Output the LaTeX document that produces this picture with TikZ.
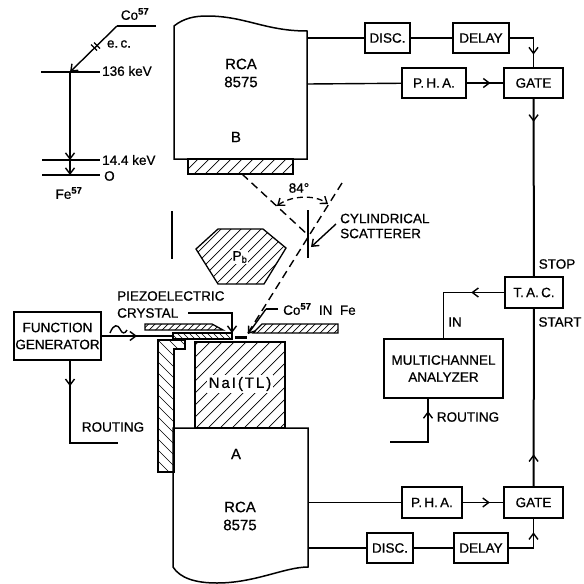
\documentclass[tikz,border=0pt]{standalone}
\usepackage{fontspec}
\setmainfont[FakeBold=0.7]{Liberation Sans}
\usetikzlibrary{arrows.meta,decorations.markings}
\tikzset{
  lbl/.style={font=\fontsize{13.5}{17}\selectfont,align=center,inner sep=0pt},
  tubelbl/.style={font=\fontsize{15}{18}\selectfont,align=center,inner sep=0pt},
  nd/.style={draw,line width=1.5pt,lbl,minimum height=30pt},
  plate/.style={draw,line width=1.3pt,inner sep=0pt},
  hatchln/.style={line width=.7pt},
  wire/.style={line width=1.4pt},
  trunk/.style={line width=2pt},
  midarr/.style={postaction={decorate,decoration={markings,
    mark=at position #1 with {\arrow{Straight Barb[length=6pt,width=9pt,line width=1.4pt]}}}}},
  dsh/.style={line width=1.4pt,dash pattern=on 8pt off 5pt},
  >={Straight Barb[length=6pt,width=9pt,line width=1.4pt]}
}
\newcommand{\hatchit}[3]{%
  \begin{scope}\clip #1;
    \foreach \hn in {0,...,320} {\draw[hatchln] (\hn*#2-600,0) -- ++(#3*600,600);}
  \end{scope}
  \draw[line width=1.3pt] #1;}
\begin{document}
\begin{tikzpicture}[x=1pt,y=-1pt]
    \useasboundingbox (0,0) rectangle (584,584);
    \draw[line width=1.5pt] (174,159) -- (174,26) .. controls (184,18) and (195,16) .. (207,16)
      .. controls (245,16) and (265,31) .. (307,31) -- (307,159) -- cycle;
    \draw[line width=1.5pt] (173,428) -- (308,428) -- (308,567) .. controls (285,567) and (255,583) .. (217,583)
      .. controls (195,583) and (180,578) .. (173,567) -- cycle;
    \node[plate,minimum width=105pt,minimum height=15pt](base) at (240.5,166.5) {};
    \node[plate,minimum width=90pt,minimum height=86pt](nai) at (240,385) {};
    \node[plate,minimum width=59pt,minimum height=6pt](piezo) at (202.5,336) {};
    \hatchit{(base.north west) rectangle (base.south east)}{11}{-1}
    \hatchit{(nai.north west) rectangle (nai.south east)}{12}{-1}
    \hatchit{(piezo.north west) rectangle (piezo.south east)}{6}{1}
    \hatchit{(158,340) -- (185,340) -- (185,349) -- (174,349) -- (174,472) -- (158,472) -- cycle}{11}{1}
    \hatchit{(145,324) -- (212,324) -- (223,330) -- (145,330) -- cycle}{6.5}{-1}
    \hatchit{(262,324) -- (338,324) -- (338,333) -- (253,333) -- cycle}{7}{-1}
    \hatchit{(218,229) -- (263,229) -- (286,248) -- (264,284) -- (218,284) -- (196,249) -- cycle}{10}{-1}
    \node[lbl,fill=white,inner sep=2pt,font=\fontsize{15}{17}\selectfont\addfontfeature{LetterSpace=13}](naiLbl) at (240,384) {NaI(TL)};
    \node[lbl,fill=white,inner sep=1pt](pb) at (240,257) {P\textsubscript{b}};
    \node[tubelbl](rcaB) at (241,73) {RCA\\8575};
    \node[tubelbl](tubeB) at (236,137) {B};
    \node[tubelbl](tubeA) at (236,454) {A};
    \node[tubelbl](rcaA) at (240,516) {RCA\\8575};
    \node[nd,minimum width=45pt](discT) at (387.5,38) {DISC.};
    \node[nd,minimum width=56pt](delayT) at (481,38) {DELAY};
    \node[nd,minimum width=64pt](phaT) at (434,83) {P.\,H.\,A.};
    \node[nd,minimum width=59pt](gateT) at (533.5,83) {GATE};
    \node[nd,minimum width=58pt,minimum height=31pt](tac) at (534,292.5) {T.\,A.\,C.};
    \node[nd,minimum width=119pt,minimum height=59pt](mca) at (443.5,368.5) {MULTICHANNEL\\ANALYZER};
    \node[nd,minimum width=60pt,minimum height=31pt](phaB) at (432,502.5) {P.\,H.\,A.};
    \node[nd,minimum width=59pt,minimum height=31pt](gateB) at (533.5,502.5) {GATE};
    \node[nd,minimum width=46pt](discB) at (390,548) {DISC.};
    \node[nd,minimum width=54pt](delayB) at (481,548) {DELAY};
    \node[nd,minimum width=87pt,minimum height=48pt](fg) at (57.5,336) {FUNCTION\\GENERATOR};
    \coordinate (tubeB1) at (307,38); \coordinate (tubeB2) at (307,84);
    \coordinate (tubeA1) at (308,502.5); \coordinate (tubeA2) at (308,548);
    \coordinate (fgOut) at (70,360); \coordinate (rtL) at (118,443);
    \coordinate (rtR) at (390,442); \coordinate (mcaIn) at (428,398);
    \draw[wire](tubeB1)--(discT);\draw[wire](discT)--(delayT);
    \draw[wire](tubeB2)--(phaT);\draw[wire,midarr=.65](phaT)--(gateT);
    \draw[wire,midarr=.76](delayT.east)-|(gateT.north);
    \draw[trunk,midarr=.13](gateT)--(tac);
    \draw[trunk,midarr=.18](gateB)--(tac);
    \draw[wire,midarr=.31](tac.west)-|(mca.north);
    \draw[wire,midarr=.84](rtR)-|(mcaIn);
    \draw[wire](tubeA1)--(phaB);\draw[wire,midarr=.67](phaB)--(gateB);
    \draw[wire](tubeA2)--(discB);\draw[wire](discB)--(delayB);
    \draw[wire,midarr=.75](delayB.east)-|(gateB.south);
    \draw[wire,midarr=.5](fg.east)--(piezo.west);
    \draw[wire,midarr=.2](fgOut)|-(rtL);
    \draw[wire] (110,333) .. controls (114,323) and (118,325) .. (120,329) .. controls (122,334) and (125,334) .. (127,330);
    \node[lbl](fgRt) at (113,427) {ROUTING};
    \node[lbl](mcaRt) at (468,417) {ROUTING};
    \node[lbl](inLbl) at (455,322) {IN};
    \node[lbl](stopLbl) at (557,264) {STOP};
    \node[lbl](startLbl) at (560,322) {START};
    % decay scheme
    \coordinate (co1) at (156,26); \coordinate (co2) at (117,26);
    \coordinate (l136a) at (41,72); \coordinate (l136) at (70,72); \coordinate (l136b) at (100,72);
    \coordinate (l14a) at (42,160); \coordinate (l14) at (70,160); \coordinate (l14b) at (100,160);
    \coordinate (l0a) at (42,175); \coordinate (l0) at (70,175); \coordinate (l0b) at (100,175);
    \draw[wire](co1)--(co2);\draw[wire,->](co2)--(l136);
    \draw[trunk](l136a)--(l136);\draw[wire](l136)--(l136b);
    \draw[wire](l14a)--(l14b);\draw[wire](l0a)--(l0b);
    \draw[wire,->](l136)--(l14);\draw[wire,->](l14)--(l0);
    \draw[wire] (91,44.5) -- (97,50.5); \draw[wire] (94,42.5) -- (100,48.5);
    \node[lbl](coLbl) at (135,14) {Co\textsuperscript{\textbf{57}}};
    \node[lbl](ecLbl) at (119,44) {e.\,c.};
    \node[lbl,anchor=west](keV136) at (102,71) {136 keV};
    \node[lbl,anchor=west](keV14) at (102,160) {14.4 keV};
    \node[lbl,anchor=west](keV0) at (104,176) {O};
    \node[lbl](feLbl) at (69,193) {Fe\textsuperscript{\textbf{57}}};
    % scatter geometry
    \coordinate (bm) at (242,174); \coordinate (sc) at (308,235);
    \coordinate (farEnd) at (342,183); \coordinate (src) at (248,333);
    \coordinate (scTop) at (308,210); \coordinate (scBot) at (308,258);
    \coordinate (barTop) at (172,211); \coordinate (barBot) at (172,259);
    \draw[dsh](bm)--(sc);\draw[dsh](farEnd)--(src);
    \draw[line width=2.2pt](scTop)--(scBot);\draw[line width=1.8pt](barTop)--(barBot);
    \coordinate (arcL) at (277,206); \coordinate (arcR) at (328,204);
    \draw[line width=1.3pt,dash pattern=on 6pt off 4pt,<->](arcL) .. controls (290,196) and (314,194) .. (arcR);
    \node[lbl](angLbl) at (299,188) {84°};
    \coordinate (srcA) at (235,337); \coordinate (srcB) at (247,337);
    \draw[line width=3pt](srcA)--(srcB);
    \node[lbl,anchor=west,align=left](scLbl) at (340,226) {CYLINDRICAL\\[-2pt]SCATTERER};
    \coordinate (scOut) at (336,224); \coordinate (scTip) at (311,247);
    \draw[wire,->](scOut)--(scTip);
    \node[lbl,anchor=west,align=left](crLbl) at (117,304.5) {PIEZOELECTRIC\\CRYSTAL};
    \coordinate (crOut) at (188,313); \coordinate (crTip) at (232,333);
    \draw[wire,->](crOut)-|(crTip);
    \node[lbl,anchor=west](coFe) at (283,309) {Co\textsuperscript{\textbf{57}}\ \ IN\ \ Fe};
    \coordinate (coOut) at (278,309); \coordinate (coBend) at (266,309); \coordinate (coTip) at (248,334);
    \draw[wire](coOut)--(coBend);\draw[wire,->](coBend)--(coTip);
  \end{tikzpicture}
\end{document}
